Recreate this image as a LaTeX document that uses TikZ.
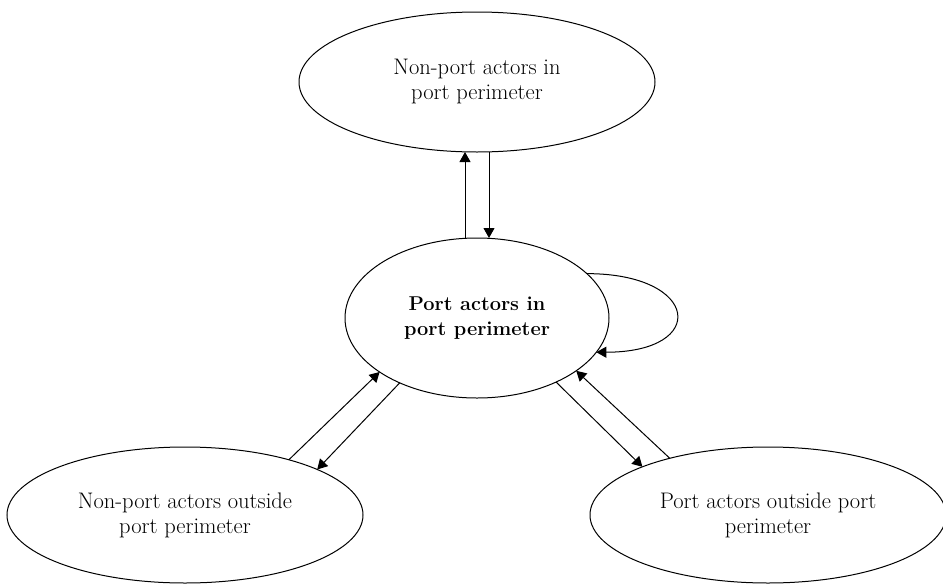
\documentclass[tikz,border=0pt]{standalone}
\usepackage{tikz}
\usetikzlibrary{arrows.meta,shapes.geometric}

\begin{document}
\begin{tikzpicture}[
    x=1pt, y=-1pt,
    actor/.style={draw, ellipse, line width=1pt, inner sep=0pt, outer sep=0pt, align=center, font=\fontsize{22.5}{25}\selectfont},
    arrow/.style={-{Triangle[length=10pt,width=11pt]}, line width=1pt}
]
    \useasboundingbox (0,0) rectangle (943,584);

    % Ellipses
    \node[actor, minimum width=356pt, minimum height=140pt] (nonportin) at (477,82) {Non-port actors in\\port perimeter};
    \node[actor, minimum width=264pt, minimum height=160pt, font=\fontsize{20}{25}\selectfont\bfseries] (portin) at (477,318) {Port actors in\\port perimeter};
    \node[actor, minimum width=356pt, minimum height=136pt] (nonportout) at (185,515) {Non-port actors outside\\port perimeter};
    \node[actor, minimum width=356pt, minimum height=136pt] (portout) at (768,515) {Port actors outside port\\perimeter};

    % Arrows
    \draw[arrow] ([xshift=-12pt]portin.north) -- ([xshift=-12pt]nonportin.south);
    \draw[arrow] ([xshift=12pt]nonportin.south) -- ([xshift=12pt]portin.north);
    \draw[arrow] (nonportout.28.3) -- (portin.209.2);
    \draw[arrow] (portin.220.1) -- (nonportout.19.8);
    \draw[arrow] (portin.321.7) -- (portout.159.4);
    \draw[arrow] (portout.150.1) -- (portin.332.6);

    % Loop
    \draw[arrow] (portin.22.6) .. controls +(113,0) and +(113,0) .. (portin.344.1);
\end{tikzpicture}
\end{document}
